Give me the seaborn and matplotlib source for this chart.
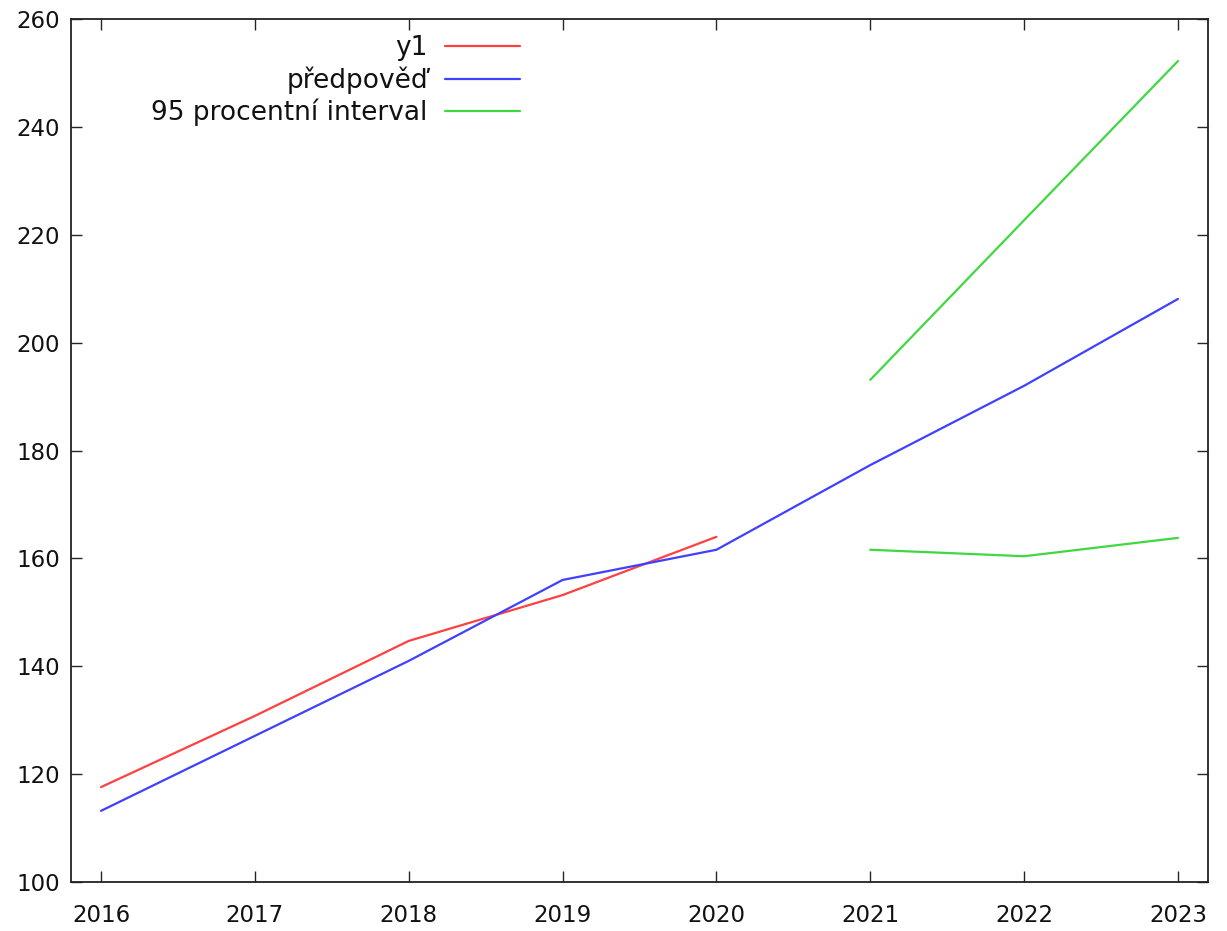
import numpy as np
import pandas as pd
import matplotlib
matplotlib.use('Agg')
import matplotlib.pyplot as plt
import seaborn as sns

years_obs = [2016, 2017, 2018, 2019, 2020]
y1 = [117.6, 130.8, 144.7, 153.2, 164.0]

years_all = [2016, 2017, 2018, 2019, 2020, 2021, 2022, 2023]
predpoved = [113.2, 127.1, 141.0, 156.0, 161.6, 177.3, 192.0, 208.1]

years_int = [2021, 2022, 2023]
upper = [193.1, 222.7, 252.2]
lower = [161.6, 160.4, 163.8]

sns.set_style('ticks')
plt.rcParams['font.family'] = ['DejaVu Sans']
plt.rcParams['text.color'] = '#111111'
plt.rcParams['xtick.labelcolor'] = '#111111'
plt.rcParams['ytick.labelcolor'] = '#111111'

fig = plt.figure(figsize=(12.27, 9.31), dpi=100)
ax = fig.add_axes([0.0579, 0.0526, 0.9266, 0.927])

sns.lineplot(x=years_obs, y=y1, color='#ff4040', lw=1.6, ax=ax, label='y1')
sns.lineplot(x=years_all, y=predpoved, color='#4040ff', lw=1.6, ax=ax, label='předpověď')
sns.lineplot(x=years_int, y=upper, color='#40d840', lw=1.6, ax=ax, label='95 procentní interval')
sns.lineplot(x=years_int, y=lower, color='#40d840', lw=1.6, ax=ax)

ax.set_xlim(2015.805, 2023.195)
ax.set_ylim(100, 260)
ax.set_xticks(years_all)
ax.set_yticks(np.arange(100, 261, 20))
ax.tick_params(direction='in', top=True, right=True, length=8, width=1, labelsize=16.5)
ax.tick_params(axis='x', pad=16)
ax.tick_params(axis='y', pad=8)
for s in ax.spines.values():
    s.set_linewidth(1.3)
    s.set_color('#222222')

ax.legend(loc='upper right', bbox_to_anchor=(0.395, 0.981), frameon=False, markerfirst=False,
          fontsize=19, handlelength=2.85, handletextpad=0.65, labelspacing=0.19,
          borderpad=0, borderaxespad=0)
for t in ax.get_legend().get_texts():
    t.set_ha('right')

fig.savefig('out.png', dpi=100)
